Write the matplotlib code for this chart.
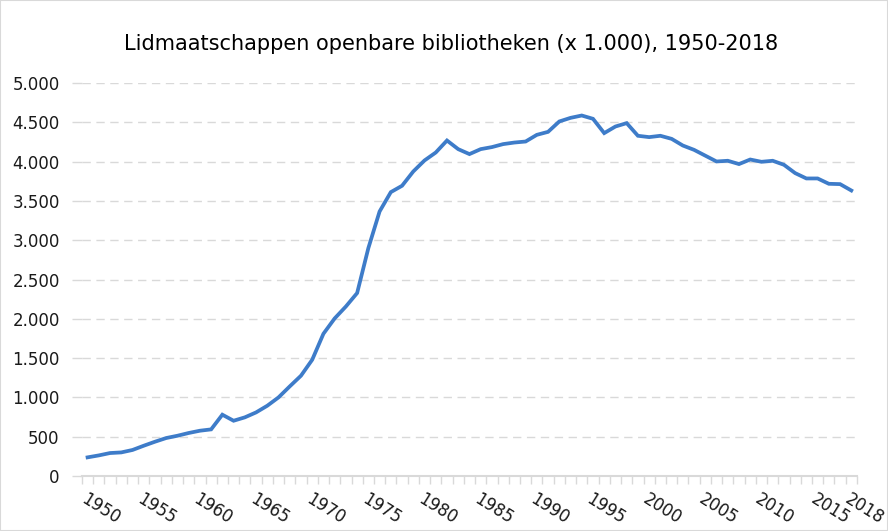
import matplotlib.pyplot as plt
import matplotlib.patches as patches
import numpy as np

plt.rcParams['font.family'] = ['DejaVu Sans']

years = list(range(1950, 2019))
members = [237, 262, 292, 300, 331, 385, 436, 483, 512, 547,
           576, 593, 780, 703, 746, 809, 894, 1000, 1140, 1276,
           1479, 1810, 2005, 2157, 2328, 2900, 3366, 3612, 3693, 3875,
           4015, 4116, 4269, 4159, 4096, 4159, 4185, 4223, 4243, 4256,
           4341, 4379, 4511, 4557, 4587, 4545, 4363, 4447, 4490, 4329,
           4312, 4329, 4290, 4205, 4150, 4076, 4002, 4011, 3969, 4027,
           3998, 4011, 3960, 3854, 3786, 3786, 3718, 3714, 3633]
label_years = [1950, 1955, 1960, 1965, 1970, 1975, 1980, 1985, 1990,
               1995, 2000, 2005, 2010, 2015, 2018]
title = 'Lidmaatschappen openbare bibliotheken (x 1.000), 1950-2018'

fig = plt.figure(figsize=(8.88, 5.31), dpi=100)
ax = fig.add_axes([0.0923, 0.1036, 0.8727, 0.740])

x = np.arange(len(years))
ax.plot(x, members, color='#3e7cc9', linewidth=2.7, solid_joinstyle='miter')

ax.set_xlim(-0.5, len(years) - 0.5)
ax.set_ylim(0, 5000)
yt = np.arange(0, 5001, 500)
ax.set_yticks(yt)
ax.set_yticklabels(['{:,}'.format(v).replace(',', '.') for v in yt])
ax.yaxis.grid(True, color='#d9d9d9', linestyle=(0, (6, 4)), linewidth=1)
ax.set_axisbelow(True)

# category labels
pos = [years.index(y) for y in label_years]
ax.set_xticks(pos)
ax.set_xticklabels([str(y) for y in label_years], rotation=-32,
                   ha='left', va='top', rotation_mode='anchor')
ax.set_xticks(np.arange(-0.5, len(years)), minor=True)
ax.tick_params(axis='x', which='major', length=0, pad=10, labelsize=12,
               labelcolor='#1a1a1a')
ax.tick_params(axis='x', which='minor', length=6, color='#d9d9d9', width=1)
ax.tick_params(axis='y', length=7, color='#d9d9d9', width=1, pad=9,
               labelsize=12, labelcolor='#1a1a1a')

for s in ['top', 'right', 'left']:
    ax.spines[s].set_visible(False)
ax.spines['bottom'].set_color('#d9d9d9')
ax.spines['bottom'].set_linewidth(1.5)

fig.text(0.508, 0.917, title, ha='center', va='center', fontsize=15,
         color='#000000')

fig.patches.append(patches.Rectangle((0, 0), 1, 1, transform=fig.transFigure,
                                     fill=False, edgecolor='#d9d9d9', linewidth=1.5))

plt.savefig('out.png', dpi=100)
